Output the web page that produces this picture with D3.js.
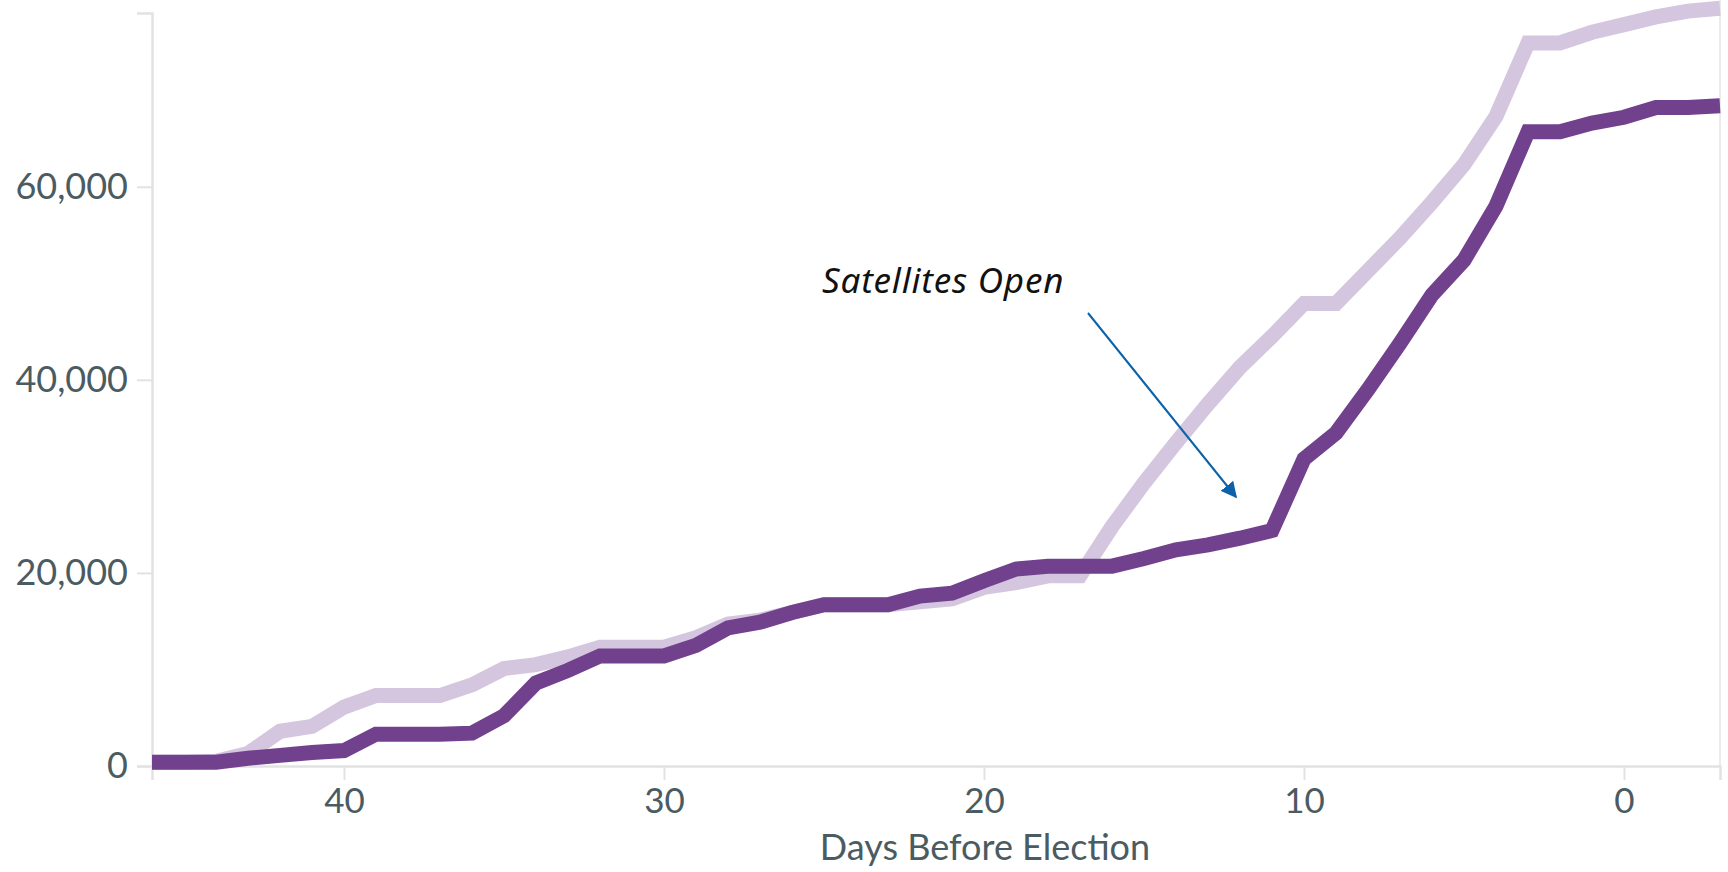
<!DOCTYPE html>
<html>
<head>
<meta charset="utf-8">
<script src="https://cdn.jsdelivr.net/npm/d3@7"></script>
<style>
  body { margin: 0; background: #fff; }
  svg { display: block; }
  .tick text { font-family: Lato, sans-serif; fill: #4b5b62; }
</style>
</head>
<body>
<svg id="chart"></svg>
<script>
// days before election, left to right
const days = [46, 45, 44, 43, 42, 41, 40, 39, 38, 37, 36, 35, 34, 33, 32, 31, 30, 29, 28, 27,
  26, 25, 24, 23, 22, 21, 20, 19, 18, 17, 16, 15, 14, 13, 12, 11, 10, 9, 8, 7,
  6, 5, 4, 3, 2, 1, 0, -1, -2, -3];

// current election (dark)
const currentVotes = [400, 400, 400, 800, 1100, 1400, 1600, 3300, 3300, 3300, 3400, 5200, 8600, 9900, 11400, 11400, 11400, 12500, 14300, 14900,
  15900, 16700, 16700, 16700, 17600, 17900, 19200, 20400, 20700, 20700, 20700, 21500, 22400, 22900, 23600, 24400, 31800, 34500, 39000, 43800,
  48800, 52400, 58000, 65700, 65700, 66600, 67200, 68200, 68200, 68400];

// previous election (light)
const previousVotes = [400, 400, 500, 1300, 3600, 4100, 6100, 7300, 7300, 7300, 8400, 10100, 10500, 11300, 12300, 12300, 12300, 13300, 14700, 15100,
  15900, 16700, 16700, 16700, 17000, 17300, 18500, 19000, 19700, 19700, 24800, 29300, 33500, 37500, 41300, 44500, 47900, 47900, 51300, 54700,
  58400, 62300, 67300, 74900, 74900, 76000, 76800, 77600, 78200, 78500];

const xTicks = [40, 30, 20, 10, 0];
const yTicks = [0, 20000, 40000, 60000];

const width = 1728, height = 872;
const svg = d3.select("#chart").attr("width", width).attr("height", height);

const x = d3.scaleLinear().domain([46, -3]).range([152, 1720]);
const y = d3.scaleLinear().domain([0, 78000]).range([766, 13]);

// right edge border
svg.append("line")
   .attr("x1", 1720).attr("x2", 1720)
   .attr("y1", 0).attr("y2", 766)
   .attr("stroke", "#ececec")
   .attr("stroke-width", 2);

const xAxis = svg.append("g")
   .attr("transform", "translate(0,766)")
   .call(d3.axisBottom(x).tickValues(xTicks).tickSize(14).tickSizeOuter(14).tickPadding(8));
xAxis.selectAll("text").attr("font-size", 35);

const yAxis = svg.append("g")
   .attr("transform", "translate(152,0)")
   .call(d3.axisLeft(y).tickValues(yTicks).tickFormat(d3.format(",")).tickSize(15).tickSizeOuter(15).tickPadding(9));
yAxis.selectAll("text").attr("font-size", 36);

svg.selectAll(".domain").attr("stroke", "#e2e2e2").attr("stroke-width", 2.5);
svg.selectAll(".tick line").attr("stroke", "#e2e2e2").attr("stroke-width", 2);

svg.append("text")
   .attr("x", 985)
   .attr("y", 860)
   .attr("text-anchor", "middle")
   .attr("font-family", "Lato, sans-serif")
   .attr("font-size", 36)
   .attr("fill", "#4b5b62")
   .text("Days Before Election");

const line = d3.line()
   .x((d, i) => x(days[i]))
   .y(d => y(d));

svg.append("path")
   .datum(previousVotes)
   .attr("d", line)
   .attr("fill", "none")
   .attr("stroke", "#d5c6df")
   .attr("stroke-width", 15);

svg.append("path")
   .datum(currentVotes)
   .attr("d", line)
   .attr("fill", "none")
   .attr("stroke", "#72418e")
   .attr("stroke-width", 15);

// annotation
const defs = svg.append("defs");
defs.append("marker")
   .attr("id", "arrow")
   .attr("viewBox", "0 0 10 10")
   .attr("refX", 9).attr("refY", 5)
   .attr("markerWidth", 8).attr("markerHeight", 8)
   .attr("markerUnits", "strokeWidth")
   .attr("orient", "auto")
   .append("path")
   .attr("d", "M0,0 L10,5 L0,10 z")
   .attr("fill", "#0b62a8");

svg.append("line")
   .attr("x1", 1088).attr("y1", 313)
   .attr("x2", 1236).attr("y2", 497)
   .attr("stroke", "#0b62a8")
   .attr("stroke-width", 2)
   .attr("marker-end", "url(#arrow)");

svg.append("text")
   .attr("x", 822)
   .attr("y", 293)
   .attr("font-family", "'Noto Sans', sans-serif")
   .attr("font-style", "italic")
   .attr("font-size", 35)
   .attr("letter-spacing", 0.8)
   .attr("fill", "#111")
   .text("Satellites Open");
</script>
</body>
</html>
